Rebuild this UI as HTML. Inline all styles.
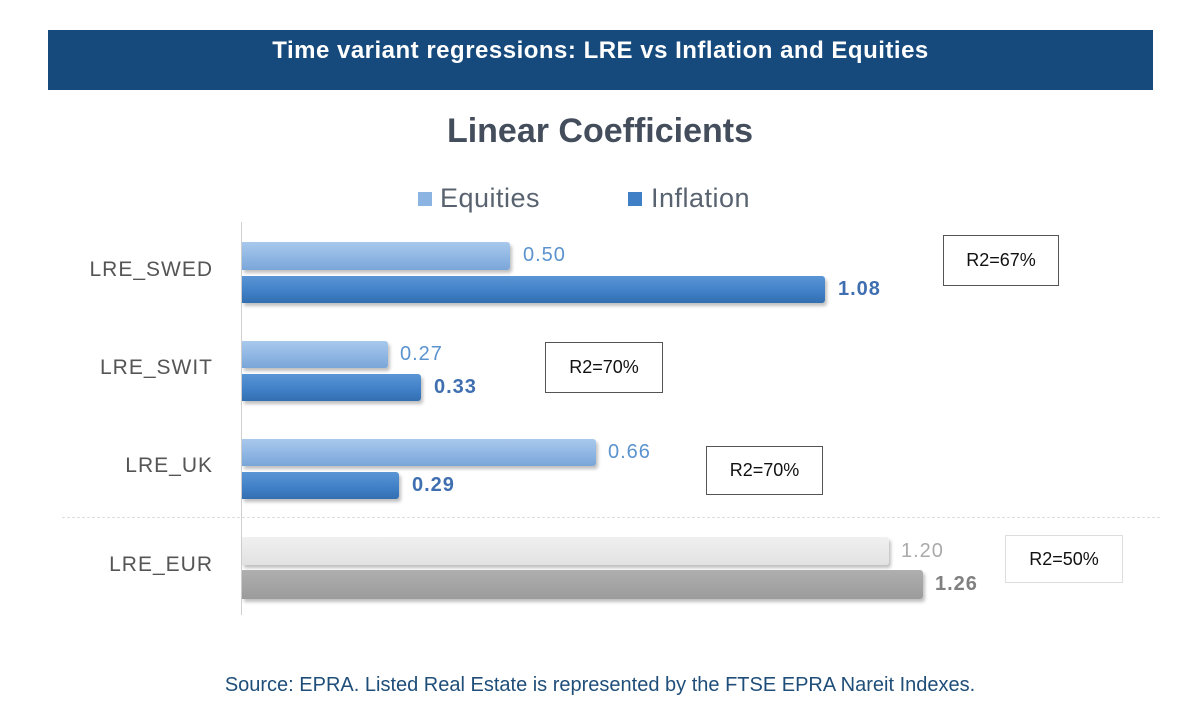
<!DOCTYPE html>
<html><head><meta charset="utf-8"><style>
body{margin:0;width:1200px;height:713px;background:#fff;position:relative;overflow:hidden;font-family:"Liberation Sans","DejaVu Sans",sans-serif}
.a{position:absolute}
.bar{position:absolute;left:242px;border-radius:0 3px 3px 0;box-shadow:2px 3px 3px rgba(0,0,0,0.25)}
.eq{background:linear-gradient(#a9c9ec,#8cb4e2 60%,#7aa6d8)}
.inf{background:linear-gradient(#5a96d6,#3f7fc6 60%,#336fb0)}
.v{position:absolute;font-size:20px;letter-spacing:1px}
.c{position:absolute;right:987px;font-size:21px;color:#555;letter-spacing:1px}
.box{position:absolute;border:1px solid #555;background:#fff;font-size:18px;display:flex;align-items:center;justify-content:center;color:#111}
</style></head><body>
<div class="a" style="left:48px;top:30px;width:1105px;height:60px;background:#174a7c;color:#fff;font-weight:bold;font-size:24px;text-align:center;line-height:42px;letter-spacing:0.5px">Time variant regressions: LRE vs Inflation and Equities</div>
<div class="a" style="left:0;width:1200px;top:112px;text-align:center;font-size:34px;font-weight:bold;color:#434d5c">Linear Coefficients</div>
<div class="a" style="left:418px;top:192px;width:14px;height:14px;background:#8cb4e2"></div>
<div class="a" style="left:440px;top:183px;font-size:27px;color:#596370;letter-spacing:0.5px">Equities</div>
<div class="a" style="left:628px;top:192px;width:14px;height:14px;background:#3f7fc6"></div>
<div class="a" style="left:651px;top:183px;font-size:27px;color:#596370;letter-spacing:0.5px">Inflation</div>
<div class="a" style="left:241px;top:222px;width:1px;height:393px;background:#d0d0d0"></div>
<div class="a" style="left:62px;top:517px;width:1098px;border-top:1px dashed #ddd"></div>

<div class="bar eq" style="top:242px;height:28px;width:268px"></div>
<div class="bar inf" style="top:276px;height:27px;width:583px"></div>
<div class="bar eq" style="top:341px;height:27px;width:146px"></div>
<div class="bar inf" style="top:374px;height:27px;width:179px"></div>
<div class="bar eq" style="top:439px;height:27px;width:354px"></div>
<div class="bar inf" style="top:472px;height:27px;width:157px"></div>
<div class="bar" style="top:537px;height:28px;width:647px;background:linear-gradient(#f0f0f0,#e2e2e2)"></div>
<div class="bar" style="top:570px;height:29px;width:681px;background:linear-gradient(#b0afaf,#9c9b9b)"></div>

<div class="v" style="left:523px;top:244px;color:#5b93cf">0.50</div>
<div class="v" style="left:838px;top:278px;color:#3f6fb0;font-weight:bold">1.08</div>
<div class="v" style="left:400px;top:343px;color:#5b93cf">0.27</div>
<div class="v" style="left:434px;top:376px;color:#3f6fb0;font-weight:bold">0.33</div>
<div class="v" style="left:608px;top:441px;color:#5b93cf">0.66</div>
<div class="v" style="left:412px;top:474px;color:#3f6fb0;font-weight:bold">0.29</div>
<div class="v" style="left:901px;top:540px;color:#aaa">1.20</div>
<div class="v" style="left:935px;top:573px;color:#808080;font-weight:bold">1.26</div>

<div class="c" style="top:258px">LRE_SWED</div>
<div class="c" style="top:356px">LRE_SWIT</div>
<div class="c" style="top:454px">LRE_UK</div>
<div class="c" style="top:553px">LRE_EUR</div>

<div class="box" style="left:943px;top:235px;width:114px;height:49px">R2=67%</div>
<div class="box" style="left:545px;top:342px;width:116px;height:49px">R2=70%</div>
<div class="box" style="left:706px;top:446px;width:115px;height:47px">R2=70%</div>
<div class="box" style="left:1005px;top:535px;width:116px;height:46px;border-color:#ddd">R2=50%</div>

<div class="a" style="left:0;width:1200px;top:674px;text-align:center;font-size:20px;color:#1f4e79">Source: EPRA. Listed Real Estate is represented by the FTSE EPRA Nareit Indexes.</div>
</body></html>
